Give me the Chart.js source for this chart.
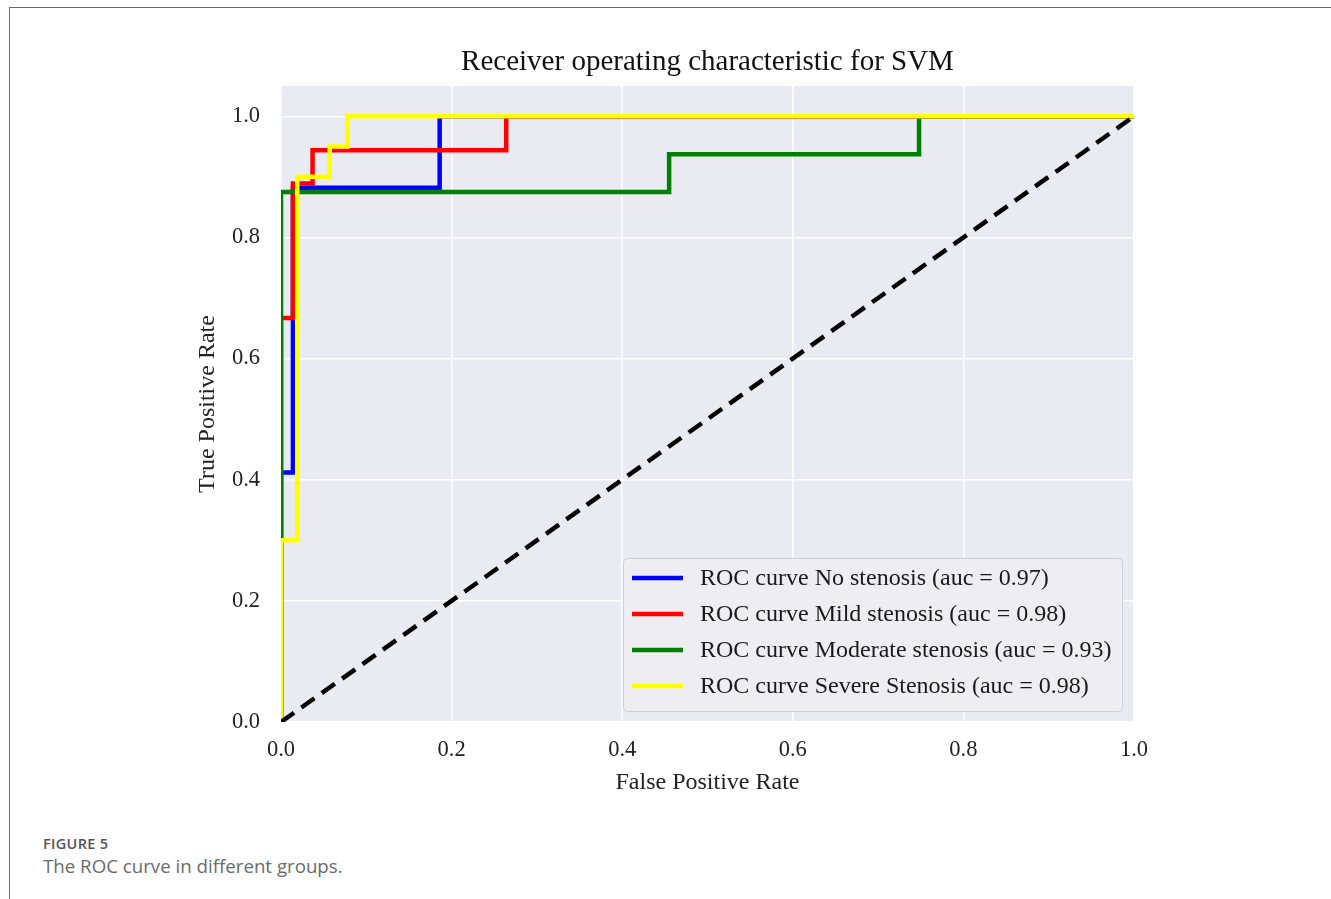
<!DOCTYPE html>
<html>
<head>
<meta charset="utf-8">
<script src="https://cdn.jsdelivr.net/npm/chart.js@4.4.1/dist/chart.umd.min.js"></script>
<style>
  html, body { margin: 0; padding: 0; background: #ffffff; }
  body { width: 1331px; height: 899px; position: relative; overflow: hidden; }
  #frameTop { position: absolute; left: 10px; top: 7px; width: 1321px; height: 0; border-top: 1.5px solid #6a6a6a; }
  #frameLeft { position: absolute; left: 9px; top: 7px; width: 0; height: 892px; border-left: 1.5px solid #6a6a6a; }
  #chart { position: absolute; left: 0; top: 0; }
  #figLabel { position: absolute; left: 43px; top: 834px; font-family: "Open Sans", sans-serif; font-weight: 600; font-size: 14.5px; color: #555; letter-spacing: 0.3px; }
  #caption { position: absolute; left: 43px; top: 853px; font-family: "Open Sans", sans-serif; font-size: 18.7px; color: #6b6b6b; }
</style>
</head>
<body>
<div id="frameTop"></div>
<div id="frameLeft"></div>
<canvas id="chart" width="1331" height="830"></canvas>
<div id="figLabel">FIGURE 5</div>
<div id="caption">The ROC curve in different groups.</div>
<script>
// ---- data ----
const chartTitle = "Receiver operating characteristic for SVM";
const xAxisTitle = "False Positive Rate";
const yAxisTitle = "True Positive Rate";

const xTickValues = [0.0, 0.2, 0.4, 0.6, 0.8, 1.0];
const xTickLabels = ["0.0", "0.2", "0.4", "0.6", "0.8", "1.0"];
const yTickValues = [0.0, 0.2, 0.4, 0.6, 0.8, 1.0];
const yTickLabels = ["0.0", "0.2", "0.4", "0.6", "0.8", "1.0"];

const seriesLabels = [
  "ROC curve No stenosis (auc = 0.97)",
  "ROC curve Mild stenosis (auc = 0.98)",
  "ROC curve Moderate stenosis (auc = 0.93)",
  "ROC curve Severe Stenosis (auc = 0.98)"
];

const noFpr = [0, 0, 0.014, 0.014, 0.186, 0.186, 1];
const noTpr = [0, 0.412, 0.412, 0.882, 0.882, 1, 1];

const mildFpr = [0, 0, 0.014, 0.014, 0.037, 0.037, 0.264, 0.264, 1];
const mildTpr = [0, 0.667, 0.667, 0.889, 0.889, 0.944, 0.944, 1, 1];

const modFpr = [0, 0, 0.455, 0.455, 0.748, 0.748, 1];
const modTpr = [0, 0.875, 0.875, 0.9375, 0.9375, 1, 1];

const sevFpr = [0, 0, 0.019, 0.019, 0.057, 0.057, 0.078, 0.078, 1];
const sevTpr = [0, 0.3, 0.3, 0.9, 0.9, 0.95, 0.95, 1, 1];

const chanceFpr = [0, 1];
const chanceTpr = [0, 1];

// ---- build ----
function pts(xs, ys) { return xs.map((x, i) => ({ x: x, y: ys[i] })); }

const SERIF = "'Liberation Serif', 'Times New Roman', serif";

const bgPlugin = {
  id: 'plotBg',
  beforeDraw(chart) {
    const a = chart.chartArea, ctx = chart.ctx;
    ctx.save();
    ctx.fillStyle = '#eaeaf2';
    ctx.fillRect(a.left, a.top, a.right - a.left, a.bottom - a.top);
    ctx.restore();
  }
};

// title centred over the plot area (as matplotlib does)
const titlePlugin = {
  id: 'axesTitle',
  afterDraw(chart) {
    const a = chart.chartArea, ctx = chart.ctx;
    ctx.save();
    ctx.font = "29px " + SERIF;
    ctx.fillStyle = '#111111';
    ctx.textAlign = 'center';
    ctx.textBaseline = 'middle';
    ctx.fillText(chartTitle, (a.left + a.right) / 2, a.top - 24);
    ctx.restore();
  }
};

const legendPlugin = {
  id: 'insideLegend',
  afterDraw(chart) {
    const a = chart.chartArea, ctx = chart.ctx;
    const items = chart.data.datasets.filter(d => d.label);
    const boxW = 499, rowH = 36, boxH = 153;
    const right = a.right - 12, bottom = a.bottom - 11;
    const left = right - boxW, top = bottom - boxH;
    ctx.save();
    ctx.beginPath();
    if (ctx.roundRect) ctx.roundRect(left + 0.5, top + 0.5, boxW, boxH, 4);
    else ctx.rect(left + 0.5, top + 0.5, boxW, boxH);
    ctx.fillStyle = 'rgba(238,238,242,0.9)';
    ctx.fill();
    ctx.strokeStyle = '#cfcfd4';
    ctx.lineWidth = 1;
    ctx.stroke();
    ctx.font = "24px " + SERIF;
    ctx.textBaseline = 'middle';
    ctx.textAlign = 'left';
    items.forEach((d, i) => {
      const cy = top + 20 + i * rowH;
      ctx.beginPath();
      ctx.strokeStyle = d.borderColor;
      ctx.lineWidth = 4.5;
      ctx.lineCap = 'butt';
      ctx.moveTo(left + 9, cy);
      ctx.lineTo(left + 60, cy);
      ctx.stroke();
      ctx.fillStyle = '#1a1a1a';
      ctx.fillText(d.label, left + 77, cy + 1);
    });
    ctx.restore();
  }
};

const common = { pointRadius: 0, pointHoverRadius: 0, borderWidth: 4.5, tension: 0, fill: false, clip: 0 };

new Chart(document.getElementById('chart'), {
  type: 'line',
  data: {
    datasets: [
      Object.assign({ label: seriesLabels[0], data: pts(noFpr, noTpr), borderColor: '#0000ff', order: 4 }, common),
      Object.assign({ label: seriesLabels[1], data: pts(mildFpr, mildTpr), borderColor: '#ff0000', order: 3 }, common),
      Object.assign({ label: seriesLabels[2], data: pts(modFpr, modTpr), borderColor: '#008000', order: 2 }, common),
      Object.assign({ label: seriesLabels[3], data: pts(sevFpr, sevTpr), borderColor: '#ffff00', order: 1 }, common),
      Object.assign({ label: '', data: pts(chanceFpr, chanceTpr), borderColor: '#000000', borderDash: [16, 9], order: 0 }, common)
    ]
  },
  options: {
    responsive: false,
    animation: false,
    devicePixelRatio: 1,
    layout: { padding: { left: 189, right: 197, top: 86, bottom: 29 } },
    plugins: {
      legend: { display: false },
      tooltip: { enabled: false },
      title: { display: false }
    },
    scales: {
      x: {
        type: 'linear',
        min: 0, max: 1,
        border: { display: false },
        grid: { color: '#ffffff', lineWidth: 1.5, drawTicks: false },
        afterBuildTicks(scale) { scale.ticks = xTickValues.map(v => ({ value: v })); },
        afterFit(scale) { scale.height = 79; },
        ticks: {
          padding: 15,
          color: '#222222',
          font: { family: SERIF, size: 22.5 },
          autoSkip: false,
          maxRotation: 0,
          callback: (v, i) => xTickLabels[i]
        },
        title: { display: true, text: xAxisTitle, color: '#222222', font: { family: SERIF, size: 24 } }
      },
      y: {
        type: 'linear',
        min: 0, max: 1.05,
        border: { display: false },
        grid: { color: '#ffffff', lineWidth: 1.5, drawTicks: false },
        afterBuildTicks(scale) { scale.ticks = yTickValues.map(v => ({ value: v })); },
        afterFit(scale) { scale.width = 92; },
        ticks: {
          padding: 21,
          color: '#222222',
          font: { family: SERIF, size: 22.5 },
          autoSkip: false,
          callback: (v, i) => yTickLabels[i]
        },
        title: { display: true, text: yAxisTitle, color: '#222222', font: { family: SERIF, size: 24 } }
      }
    }
  },
  plugins: [bgPlugin, titlePlugin, legendPlugin]
});
</script>
</body>
</html>
